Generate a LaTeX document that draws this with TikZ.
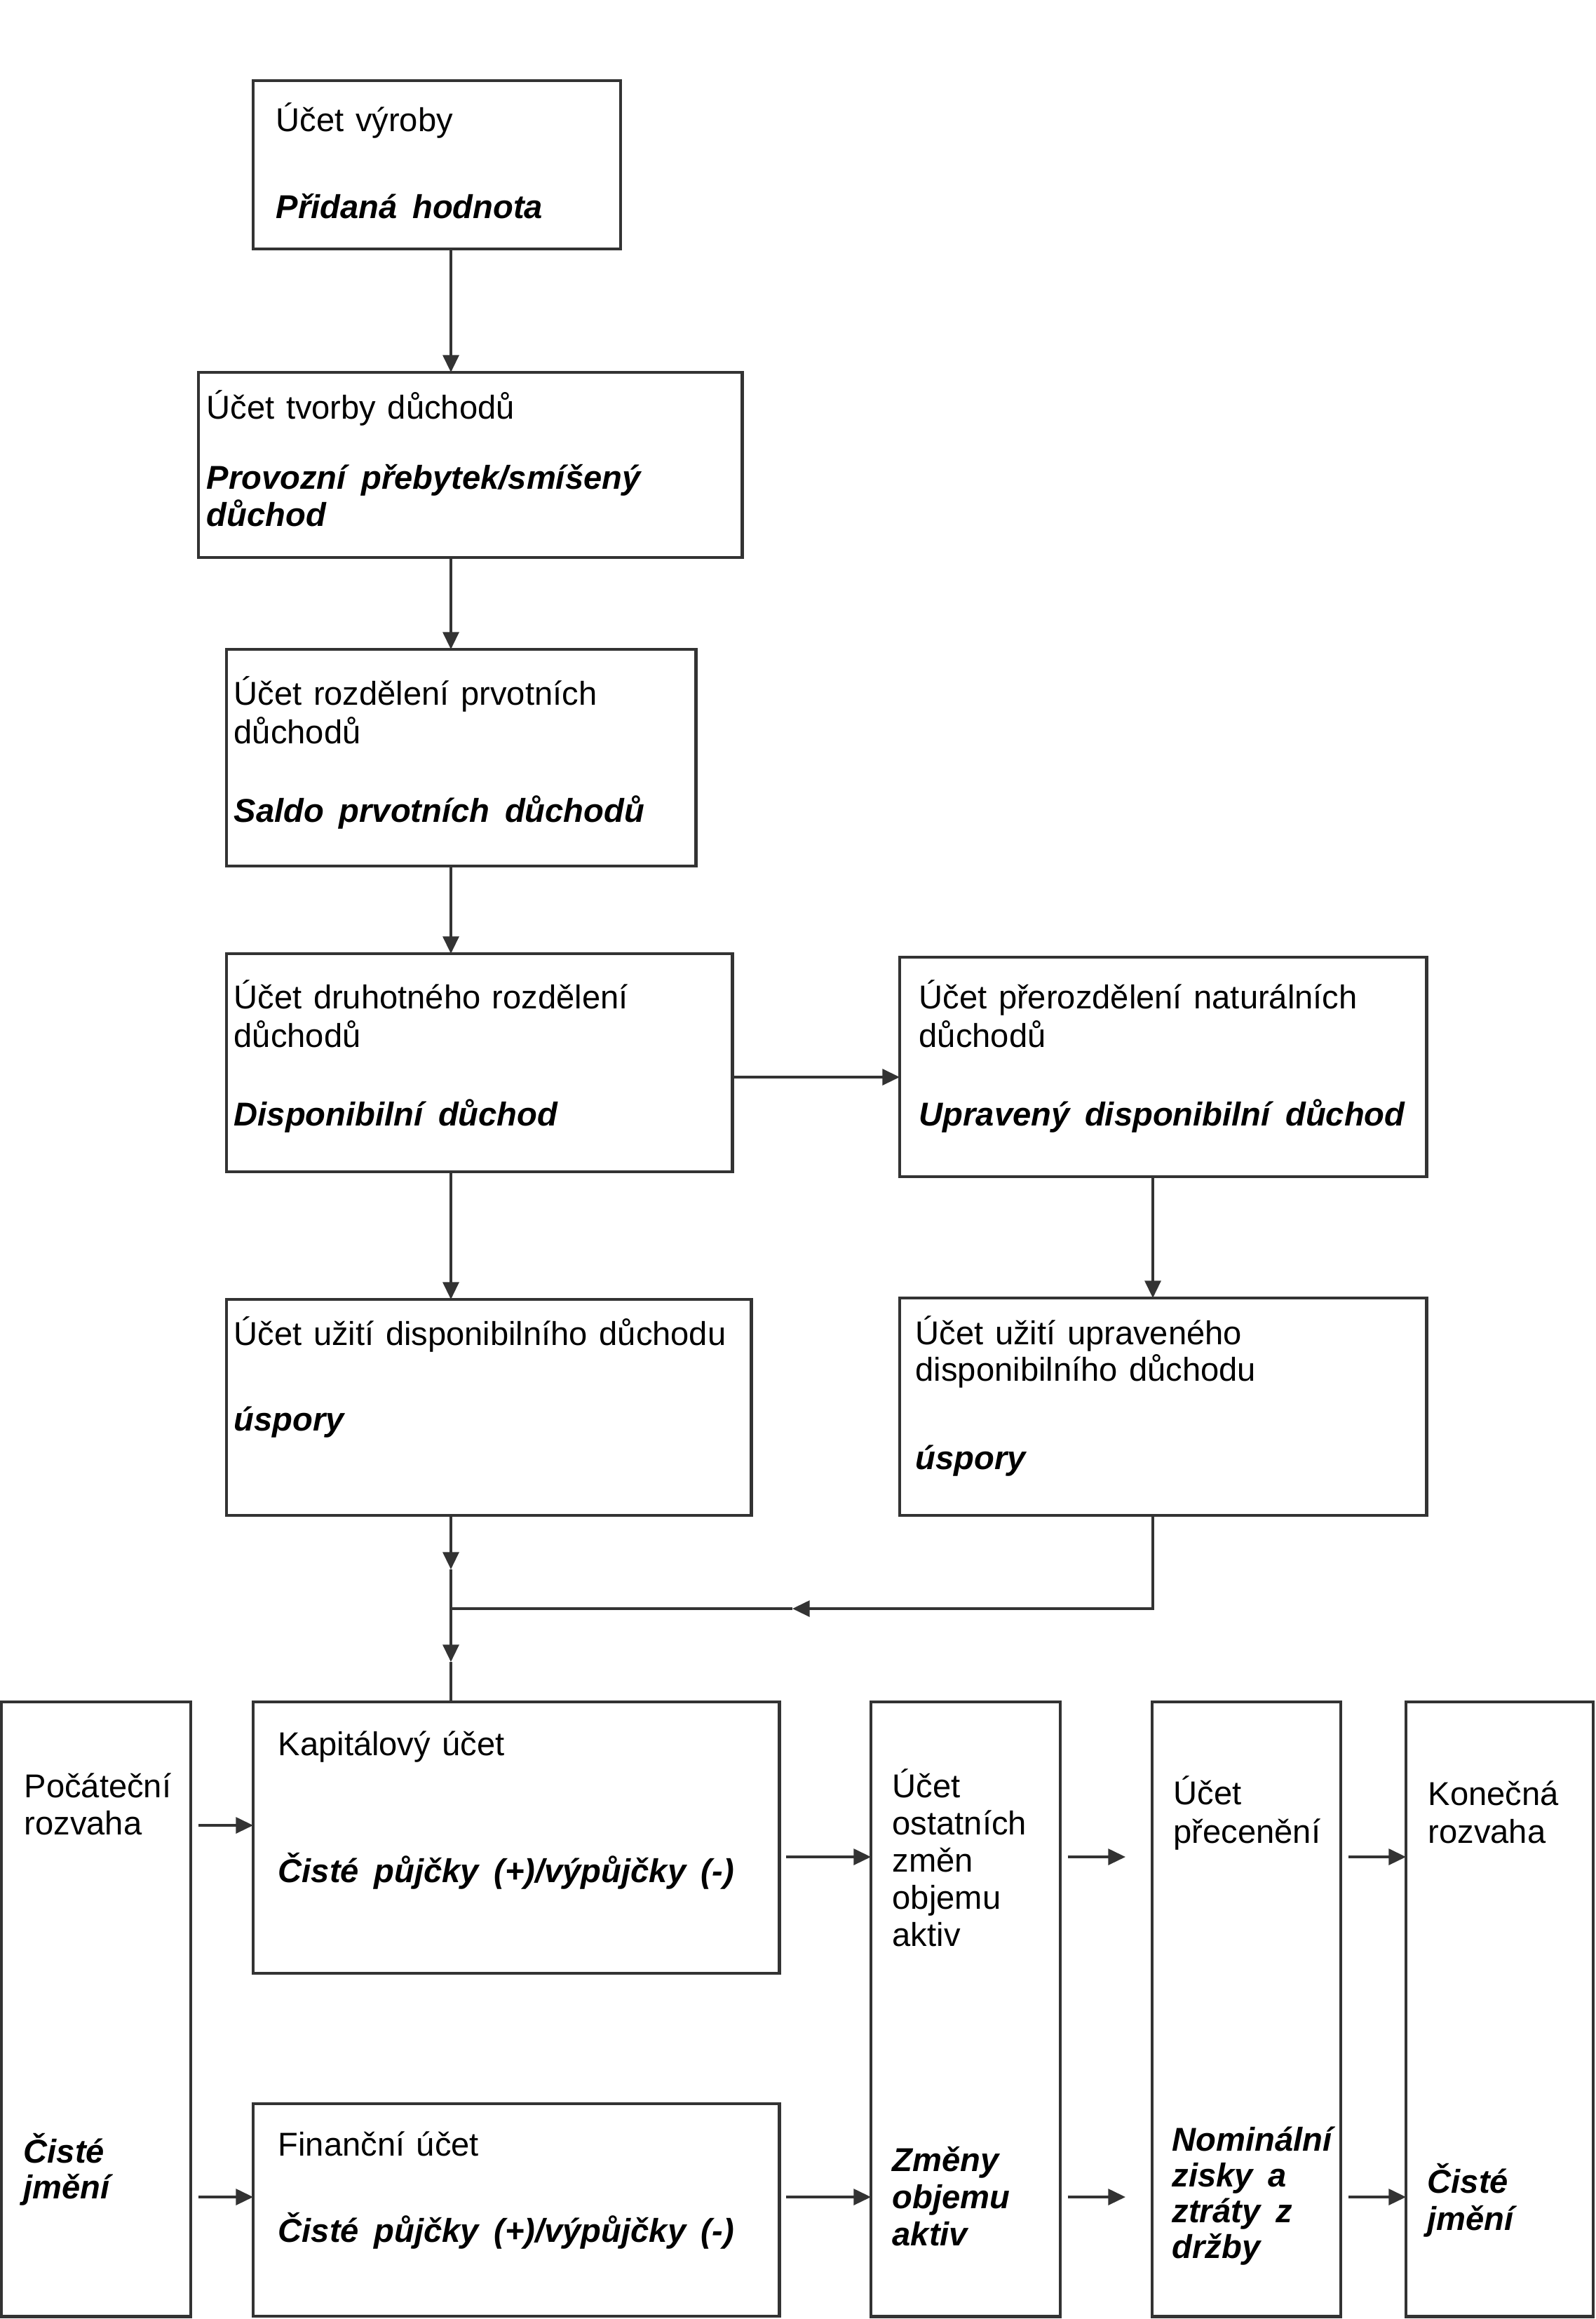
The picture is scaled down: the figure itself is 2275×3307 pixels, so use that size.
\documentclass[tikz,border=0pt]{standalone}
\usepackage{fontspec}
\setmainfont{Liberation Sans}
\usetikzlibrary{arrows.meta}
\newcommand\myboldfont{\fontsize{13.4pt}{15.4pt}\selectfont\bfseries\itshape\spaceskip=0.46em\relax}
\newcommand\myregfont{\fontsize{13.4pt}{15.4pt}\selectfont\spaceskip=0.35em\relax}
\begin{document}
\begin{tikzpicture}[x=0.01cm,y=-0.01cm]
\tikzset{
 box/.style={draw=black!80, line width=1.2pt, rectangle, inner sep=0pt, outer sep=0pt, anchor=north west},
 tx/.style={anchor=base west, inner sep=0pt, font=\myregfont},
 bx/.style={anchor=base west, inner sep=0pt, font=\myboldfont},
 conn/.style={draw=black!80, line width=1pt},
 arr/.style={conn, -{Triangle[length=7pt,width=6.5pt]}},
}
\useasboundingbox (0,0) rectangle (2275,3307);
% boxes
\node[box, minimum width=5.24cm, minimum height=2.40cm] (b1) at (361,115) {};
\node[box, minimum width=7.75cm, minimum height=2.64cm] (b2) at (283,531) {};
\node[box, minimum width=6.69cm, minimum height=3.09cm] (b3) at (323,926) {};
\node[box, minimum width=7.21cm, minimum height=3.11cm] (b4) at (323,1360) {};
\node[box, minimum width=7.51cm, minimum height=3.13cm] (b5) at (1283,1365) {};
\node[box, minimum width=7.48cm, minimum height=3.08cm] (b6) at (323,1853) {};
\node[box, minimum width=7.51cm, minimum height=3.10cm] (b7) at (1283,1851) {};
\node[box, minimum width=2.70cm, minimum height=8.76cm] (poc) at (2,2427) {};
\node[box, minimum width=7.50cm, minimum height=3.87cm] (kap) at (361,2427) {};
\node[box, minimum width=7.50cm, minimum height=3.03cm] (fin) at (361,3000) {};
\node[box, minimum width=2.70cm, minimum height=8.76cm] (ost) at (1242,2427) {};
\node[box, minimum width=2.69cm, minimum height=8.76cm] (pre) at (1643,2427) {};
\node[box, minimum width=2.67cm, minimum height=8.76cm] (kon) at (2005,2427) {};
% texts
\node[tx] (b1a) at (393,188) {Účet výroby};
\node[bx] (b1b) at (393,312) {Přidaná hodnota};
\node[tx] (b2a) at (294,598) {Účet tvorby důchodů};
\node[bx] (b2b) at (294,698) {Provozní přebytek/smíšený};
\node[bx] (b2c) at (294,751) {důchod};
\node[tx] (b3a) at (333,1005) {Účet rozdělení prvotních};
\node[tx] (b3b) at (333,1060) {důchodů};
\node[bx] (b3c) at (333,1172) {Saldo prvotních důchodů};
\node[tx] (b4a) at (333,1438) {Účet druhotného rozdělení};
\node[tx] (b4b) at (333,1493) {důchodů};
\node[bx] (b4c) at (333,1605) {Disponibilní důchod};
\node[tx] (b5a) at (1310,1438) {Účet přerozdělení naturálních};
\node[tx] (b5b) at (1310,1493) {důchodů};
\node[bx] (b5c) at (1310,1605) {Upravený disponibilní důchod};
\node[tx] (b6a) at (333,1918) {Účet užití disponibilního důchodu};
\node[bx] (b6b) at (333,2040) {úspory};
\node[tx] (b7a) at (1305,1917) {Účet užití upraveného};
\node[tx] (b7b) at (1305,1969) {disponibilního důchodu};
\node[bx] (b7c) at (1305,2095) {úspory};
\node[tx] (kapa) at (396,2503) {Kapitálový účet};
\node[bx] (kapb) at (396,2684) {Čisté půjčky (+)/výpůjčky (-)};
\node[tx] (fina) at (396,3074) {Finanční účet};
\node[bx] (finb) at (396,3197) {Čisté půjčky (+)/výpůjčky (-)};
\node[tx] (poca) at (34,2563) {Počáteční};
\node[tx] (pocb) at (34,2616) {rozvaha};
\node[bx] (pocc) at (33,3084) {Čisté};
\node[bx] (pocd) at (33,3135) {jmění};
\node[tx] (osta) at (1272,2563) {Účet};
\node[tx] (ostb) at (1272,2616) {ostatních};
\node[tx] (ostc) at (1272,2669) {změn};
\node[tx] (ostd) at (1272,2722) {objemu};
\node[tx] (oste) at (1272,2775) {aktiv};
\node[bx] (ostf) at (1272,3096) {Změny};
\node[bx] (ostg) at (1272,3149) {objemu};
\node[bx] (osth) at (1272,3202) {aktiv};
\node[tx] (prea) at (1673,2573) {Účet};
\node[tx] (preb) at (1673,2628) {přecenění};
\node[bx] (prec) at (1671,3067) {Nominální};
\node[bx] (pred) at (1671,3118) {zisky a};
\node[bx] (pree) at (1671,3169) {ztráty z};
\node[bx] (pref) at (1671,3220) {držby};
\node[tx] (kona) at (2036,2574) {Konečná};
\node[tx] (konb) at (2036,2628) {rozvaha};
\node[bx] (konc) at (2035,3127) {Čisté};
\node[bx] (kond) at (2035,3180) {jmění};
% helper coordinates
\coordinate (colA) at (643,0);
\coordinate (colB) at (1644,0);
\coordinate (rowA) at (0,1536);
\coordinate (m1) at (643,2238);
\coordinate (J) at (643,2294);
\coordinate (m2) at (643,2370);
\coordinate (C) at (1644,2294);
\coordinate (m3) at (1130,2294);
\coordinate (rowU1) at (0,2603);
\coordinate (rowU2) at (0,2648);
\coordinate (rowL) at (0,3133);
% connectors
\draw[arr] (b1.south -| colA) -- (b2.north -| colA);
\draw[arr] (b2.south -| colA) -- (b3.north -| colA);
\draw[arr] (b3.south -| colA) -- (b4.north -| colA);
\draw[arr] (b4.east |- rowA) -- (b5.west |- rowA);
\draw[arr] (b4.south -| colA) -- (b6.north -| colA);
\draw[arr] (b5.south -| colB) -- (b7.north -| colB);
\draw[arr] (b6.south -| colA) -- (m1);
\draw[conn] (m1) -- (J);
\draw[arr] (J) -- (m2);
\draw[conn] (m2) -- (kap.north -| colA);
\draw[arr] (b7.south -| colB) -- (C) -- (m3);
\draw[conn] (m3) -- (J);
% bottom row
\draw[arr, shorten <=0.11cm] (poc.east |- rowU1) -- (kap.west |- rowU1);
\draw[arr, shorten <=0.10cm] (kap.east |- rowU2) -- (ost.west |- rowU2);
\draw[arr, shorten <=0.11cm, shorten >=0.38cm] (ost.east |- rowU2) -- (pre.west |- rowU2);
\draw[arr, shorten <=0.11cm] (pre.east |- rowU2) -- (kon.west |- rowU2);
\draw[arr, shorten <=0.11cm] (poc.east |- rowL) -- (fin.west |- rowL);
\draw[arr, shorten <=0.10cm] (fin.east |- rowL) -- (ost.west |- rowL);
\draw[arr, shorten <=0.11cm, shorten >=0.38cm] (ost.east |- rowL) -- (pre.west |- rowL);
\draw[arr, shorten <=0.11cm] (pre.east |- rowL) -- (kon.west |- rowL);
\end{tikzpicture}
\end{document}
